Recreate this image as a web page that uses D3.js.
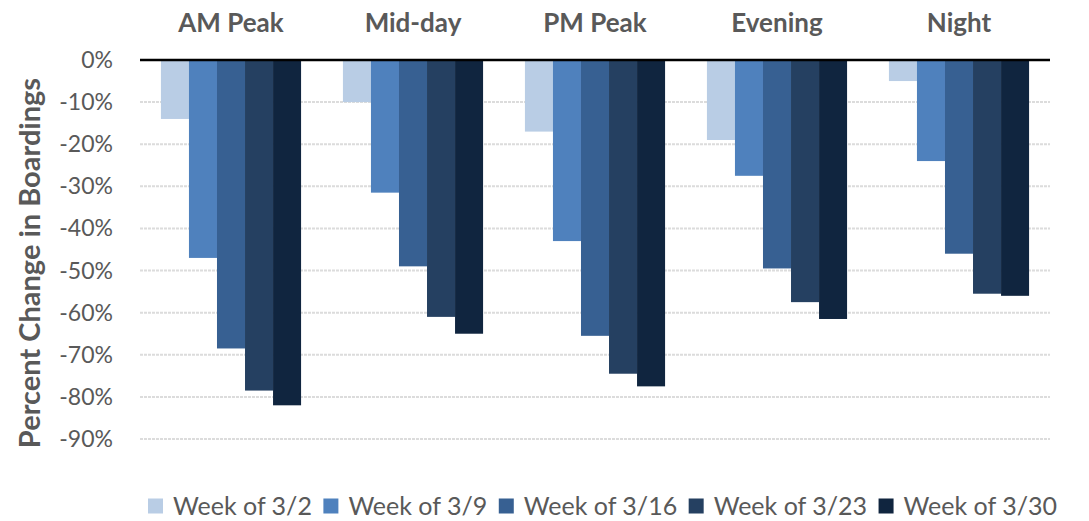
<!DOCTYPE html>
<meta charset="utf-8">
<script src="https://d3js.org/d3.v7.min.js"></script>
<style>
  body { margin: 0; background: #fff; }
  text { font-family: Lato, "Open Sans", sans-serif; fill: #595959; }
</style>
<div id="chart"></div>
<script>
const periods = ["AM Peak", "Mid-day", "PM Peak", "Evening", "Night"];
const weeks = ["Week of 3/2", "Week of 3/9", "Week of 3/16", "Week of 3/23", "Week of 3/30"];
// one array per week, values in percent, in order of periods
const wk0302 = [-14, -10, -17, -19, -5];
const wk0309 = [-47, -31.5, -43, -27.5, -24];
const wk0316 = [-68.5, -49, -65.5, -49.5, -46];
const wk0323 = [-78.5, -61, -74.5, -57.5, -55.5];
const wk0330 = [-82, -65, -77.5, -61.5, -56];
const yTicks = [0, -10, -20, -30, -40, -50, -60, -70, -80, -90];
const colors = ["#B9CDE5", "#4F81BD", "#376092", "#254061", "#10253F"];

const series = [wk0302, wk0309, wk0316, wk0323, wk0330];

const W = 1089, H = 521;
const margin = { top: 60, right: 39, bottom: 82, left: 140 };
const width = W - margin.left - margin.right,
      height = H - margin.top - margin.bottom;

const svg = d3.select("#chart").append("svg")
  .attr("width", W).attr("height", H);
const g = svg.append("g").attr("transform", `translate(${margin.left},${margin.top})`);

const x0 = d3.scaleBand().domain(periods).range([0, width]).paddingInner(0.23).paddingOuter(0.115);
const x1 = d3.scaleBand().domain(weeks).range([0, x0.bandwidth()]);
const y = d3.scaleLinear().domain([0, -90]).range([0, 379]);

// gridlines
g.selectAll(".grid").data(yTicks.slice(1)).join("line")
  .attr("x1", 0).attr("x2", width)
  .attr("y1", d => y(d)).attr("y2", d => y(d))
  .attr("stroke", "#dcdcdc").attr("stroke-width", 2)
  .attr("stroke-dasharray", "3,1");

// bars
const groups = g.selectAll(".grp").data(periods).join("g")
  .attr("transform", d => `translate(${x0(d)},0)`);
groups.selectAll("rect").data((p, i) => weeks.map((w, k) => ({ w, k, v: series[k][i] })))
  .join("rect")
  .attr("x", d => x1(d.w))
  .attr("y", 0)
  .attr("width", x1.bandwidth())
  .attr("height", d => y(d.v))
  .attr("fill", d => colors[d.k]);

// zero line
g.append("line").attr("x1", 0).attr("x2", width).attr("y1", 0).attr("y2", 0)
  .attr("stroke", "#000").attr("stroke-width", 2.5);

// y tick labels
g.selectAll(".ytl").data(yTicks).join("text")
  .attr("x", -27).attr("y", d => y(d)).attr("dy", "0.35em")
  .attr("text-anchor", "end").style("font-size", "23px")
  .text(d => d + "%");

// category labels on top
g.selectAll(".cat").data(periods).join("text")
  .attr("x", d => x0(d) + x0.bandwidth() / 2).attr("y", -28)
  .attr("text-anchor", "middle").style("font-size", "26px").style("font-weight", "bold")
  .text(d => d);

// y-axis title
svg.append("text")
  .attr("transform", `translate(30,263) rotate(-90)`)
  .attr("text-anchor", "middle").attr("dy", "0.35em")
  .style("font-size", "29px").style("font-weight", "bold")
  .text("Percent Change in Boardings");

// legend
const legend = svg.append("g").attr("transform", "translate(148,506)");
let lx = 0;
weeks.forEach((w, k) => {
  legend.append("rect").attr("x", lx).attr("y", -7.5).attr("width", 15).attr("height", 15).attr("fill", colors[k]);
  const t = legend.append("text").attr("x", lx + 25).attr("y", 0).attr("dy", "0.35em")
    .style("font-size", "25px").text(w);
  lx += 25 + t.node().getComputedTextLength() + 11.5;
});
</script>
